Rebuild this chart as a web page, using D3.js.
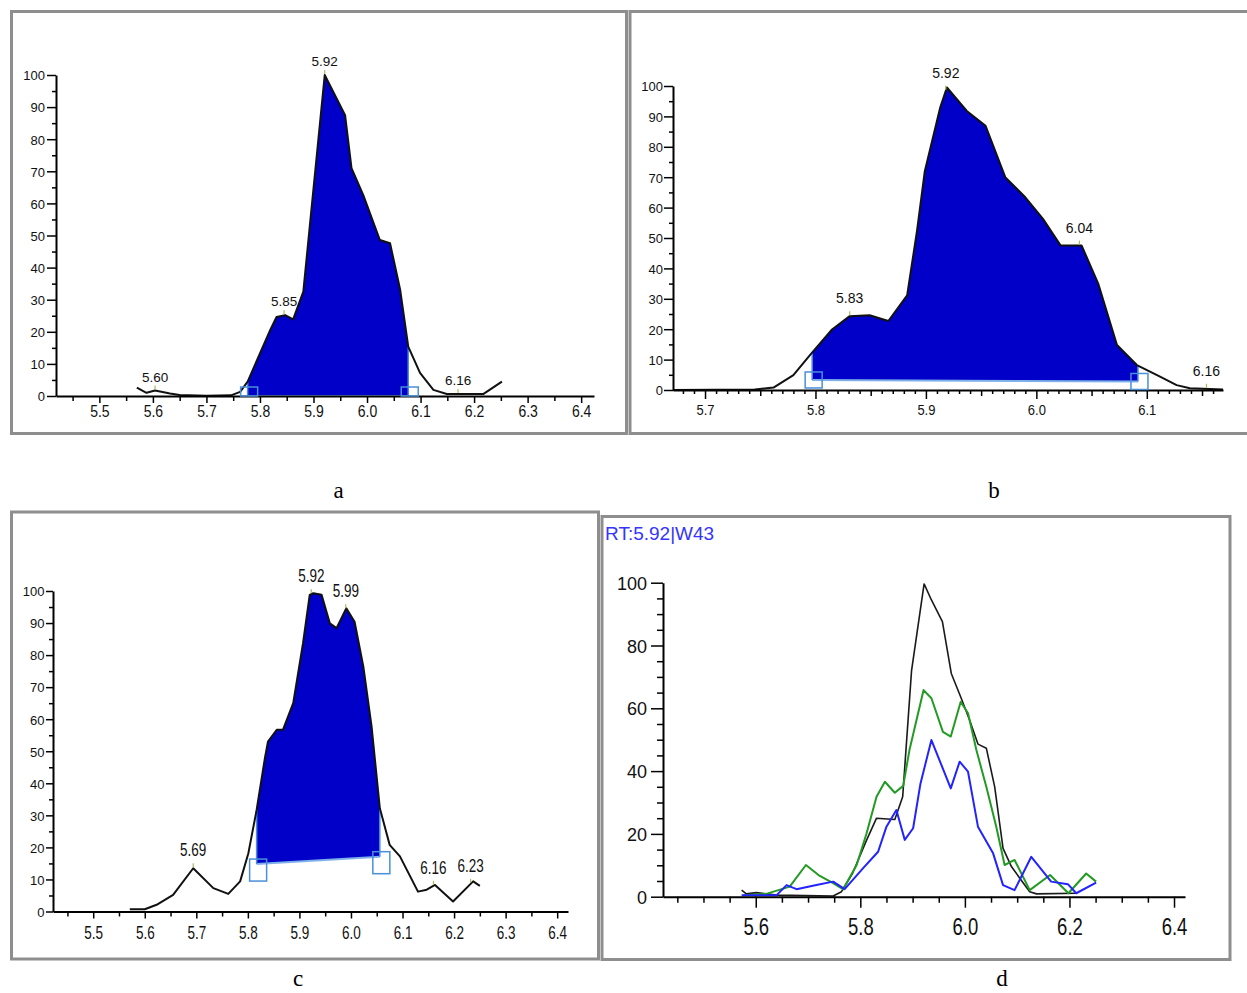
<!DOCTYPE html>
<html>
<head>
<meta charset="utf-8">
<script src="https://cdn.jsdelivr.net/npm/d3@7"></script>
<style>
  body { margin: 0; background: #fff; }
  svg { display: block; }
</style>
</head>
<body>
<div id="chart"></div>
<script>
// ---- data ----
// panel a
var aRT  = [5.570, 5.588, 5.604, 5.632, 5.650, 5.700, 5.746, 5.763, 5.777, 5.819, 5.831, 5.847, 5.862, 5.881, 5.921,
            5.959, 5.971, 5.993, 6.024, 6.043, 6.062, 6.077, 6.099, 6.124, 6.149, 6.217, 6.252];
var aVal = [2.6, 1.0, 1.7, 0.8, 0.3, 0.1, 0.2, 1.3, 4.5, 20.5, 24.6, 25.2, 23.9, 32.5, 100,
            87.5, 71, 62.6, 48.6, 47.6, 33, 15.4, 7.2, 1.9, 0.6, 0.6, 4.5];
var aPeakRT   = [5.604, 5.845, 5.921, 6.170];
var aPeakText = ['5.60', '5.85', '5.92', '6.16'];
var aArea = [5.777, 6.077];
var aBase = [0, 0];

// panel b
var bRT  = [5.671, 5.745, 5.762, 5.780, 5.795, 5.815, 5.831, 5.849, 5.866, 5.883, 5.892, 5.899, 5.913, 5.919,
            5.937, 5.954, 5.972, 5.990, 6.006, 6.022, 6.041, 6.056, 6.073, 6.091, 6.112, 6.127, 6.139, 6.169];
var bVal = [0, 0.2, 0.8, 4.9, 11.5, 19.9, 24.3, 24.6, 22.7, 31.1, 52.5, 72, 93, 99.5,
            91.8, 86.9, 69.9, 63.4, 56.3, 47.5, 47.5, 35, 14.8, 8.2, 4.4, 1.6, 0.6, 0.2];
var bPeakRT   = [5.831, 5.918, 6.039, 6.154];
var bPeakText = ['5.83', '5.92', '6.04', '6.16'];
var bArea = [5.797, 6.092];
var bBase = [3.3, 2.8];

// panel c
var cRT  = [5.571, 5.600, 5.623, 5.655, 5.694, 5.733, 5.762, 5.785, 5.801, 5.817, 5.833, 5.839, 5.856, 5.868,
            5.888, 5.907, 5.920, 5.927, 5.943, 5.959, 5.972, 5.991, 6.007, 6.024, 6.040, 6.056, 6.075, 6.095,
            6.130, 6.147, 6.163, 6.198, 6.237, 6.250];
var cVal = [0.7, 0.7, 2.1, 5.2, 13.5, 7.3, 5.5, 9.4, 18.2, 31.7, 47.8, 53, 56.7, 56.7,
            65, 83.7, 98.8, 99.3, 98.8, 89.9, 88.4, 94.6, 90.4, 76.4, 57.7, 32.2, 20.8, 17.2,
            6.2, 6.8, 8.3, 3.1, 9.4, 8.0];
var cPeakRT   = [5.694, 5.923, 5.990, 6.160, 6.232];
var cPeakText = ['5.69', '5.92', '5.99', '6.16', '6.23'];
var cArea = [5.817, 6.056];
var cBase = [14.8, 17.1];

// panel d (three traces)
var dBlackRT  = [5.573, 5.582, 5.601, 5.640, 5.748, 5.764, 5.785, 5.812, 5.831, 5.866, 5.881, 5.898, 5.922,
                 5.936, 5.957, 5.974, 5.993, 6.009, 6.025, 6.041, 6.057, 6.073, 6.089, 6.105, 6.124, 6.137, 6.214];
var dBlackVal = [2.1, 0.9, 1.3, 0.5, 0.2, 1.6, 7.4, 18, 25, 24.6, 31.8, 72, 99.6,
                 94.5, 87.6, 71.1, 63.2, 56.3, 48.6, 47.3, 35, 15.4, 9.6, 5.9, 1.6, 0.9, 1.1];
var dGreenRT  = [5.576, 5.620, 5.665, 5.696, 5.720, 5.748, 5.767, 5.793, 5.812, 5.831, 5.847, 5.866, 5.882,
                 5.894, 5.921, 5.936, 5.958, 5.973, 5.992, 6.006, 6.022, 6.041, 6.060, 6.076, 6.095, 6.124,
                 6.163, 6.198, 6.232, 6.251];
var dGreenVal = [0.5, 0.9, 3.2, 10.1, 6.9, 4.3, 2.4, 10.1, 20.2, 31.8, 36.6, 33.1, 35.3,
                 46.7, 65.8, 63.2, 52.5, 51, 62.1, 58.4, 46.7, 35, 22.3, 10.1, 11.7, 2.1,
                 6.9, 1.1, 7.4, 4.8];
var dBlueRT   = [5.573, 5.640, 5.659, 5.678, 5.716, 5.748, 5.770, 5.805, 5.834, 5.850, 5.869, 5.885, 5.901,
                 5.915, 5.936, 5.973, 5.990, 6.006, 6.025, 6.054, 6.073, 6.095, 6.127, 6.165, 6.197, 6.213, 6.251];
var dBlueVal  = [0.5, 0.5, 3.7, 2.4, 3.7, 4.8, 2.4, 9, 14.3, 22.3, 27.6, 18.1, 21.8,
                 36, 49.9, 34.5, 43, 39.8, 22.3, 13.8, 3.7, 2.1, 12.7, 4.8, 4, 1.1, 4.5];

// tick labels
var acXLabels = [5.5, 5.6, 5.7, 5.8, 5.9, 6.0, 6.1, 6.2, 6.3, 6.4];
var bXLabels  = [5.7, 5.8, 5.9, 6.0, 6.1];
var dXLabels  = [5.6, 5.8, 6.0, 6.2, 6.4];
var yLabels10 = [0, 10, 20, 30, 40, 50, 60, 70, 80, 90, 100];
var dYLabels  = [0, 20, 40, 60, 80, 100];
var panelLetters = ['a', 'b', 'c', 'd'];
var dTitle = 'RT:5.92|W43';

var W = 1247, H = 993;
var FILL = '#0000c8', EDGE = '#4a8fd8', FRAME = '#8e8e8e';
var SANS = 'Liberation Sans, Arial, sans-serif';

var svg = d3.select('#chart').append('svg')
  .attr('width', W)
  .attr('height', H);

svg.append('rect').attr('width', W).attr('height', H).attr('fill', '#fff');

function near(list, v) {
  return list.some(function (m) { return Math.abs(m - v) < 1e-6; });
}

function valueAt(rts, vals, t) {
  var i = d3.bisectLeft(rts, t);
  if (i <= 0) return vals[0];
  if (i >= rts.length) return vals[vals.length - 1];
  var f = (t - rts[i - 1]) / (rts[i] - rts[i - 1]);
  return vals[i - 1] + f * (vals[i] - vals[i - 1]);
}

function drawPanel(p) {
  var x = d3.scaleLinear().domain(p.xDomain).range(p.xRange);
  var y = d3.scaleLinear().domain([0, 100]).range(p.yRange);
  var g = svg.append('g');

  // integrated area
  if (p.area) {
    var rs = p.area[0], re = p.area[1], b0 = p.base[0], b1 = p.base[1];
    var baseAt = function (t) { return b0 + (b1 - b0) * (t - rs) / (re - rs); };
    var pts = [[rs, valueAt(p.rt, p.val, rs)]];
    p.rt.forEach(function (t, i) { if (t > rs && t < re) pts.push([t, p.val[i]]); });
    pts.push([re, valueAt(p.rt, p.val, re)]);

    g.append('path').datum(pts)
      .attr('d', d3.area()
        .x(function (d) { return x(d[0]); })
        .y0(function (d) { return y(baseAt(d[0])); })
        .y1(function (d) { return y(d[1]); }))
      .attr('fill', FILL);

    g.append('line')
      .attr('x1', x(rs)).attr('y1', y(b0)).attr('x2', x(re)).attr('y2', y(b1))
      .attr('stroke', '#7fb0ea').attr('stroke-width', 2);
    [[rs, b0], [re, b1]].forEach(function (e) {
      g.append('line')
        .attr('x1', x(e[0])).attr('x2', x(e[0]))
        .attr('y1', y(e[1])).attr('y2', y(valueAt(p.rt, p.val, e[0])))
        .attr('stroke', EDGE).attr('stroke-width', 1.5);
    });
  }

  // traces
  p.lines.forEach(function (ln) {
    var pts = ln.rt.map(function (t, i) { return [t, ln.val[i]]; });
    g.append('path').datum(pts)
      .attr('d', d3.line()
        .x(function (d) { return x(d[0]); })
        .y(function (d) { return y(d[1]); }))
      .attr('fill', 'none')
      .attr('stroke', ln.color)
      .attr('stroke-width', ln.width)
      .attr('stroke-linejoin', 'round');
  });

  // x axis
  var xAxis = g.append('g')
    .attr('transform', 'translate(0,' + p.yRange[0] + ')')
    .call(d3.axisBottom(x).tickValues(p.xTicks).tickSizeOuter(0)
      .tickFormat(function (d) { return near(p.xLabels, d) ? d3.format('.1f')(d) : ''; }))
    .attr('font-family', SANS)
    .attr('font-size', p.xFont[0]);
  xAxis.select('.domain').attr('stroke', '#000').attr('stroke-width', 2);
  xAxis.selectAll('.tick line')
    .attr('stroke', '#000').attr('stroke-width', 1.5)
    .attr('y2', function (d) {
      if (near(p.xLabels, d)) return p.xTickLen[0];
      if (p.xMid && near(p.xMid, d)) return p.xTickLen[2];
      return p.xTickLen[1];
    });
  xAxis.selectAll('.tick text')
    .attr('y', null).attr('dy', null).attr('fill', '#111')
    .attr('transform', 'translate(0,' + p.xFont[1] + ') scale(1,' + p.xFont[2] + ')');

  // y axis
  var yAxis = g.append('g')
    .attr('transform', 'translate(' + p.xRange[0] + ',0)')
    .call(d3.axisLeft(y).tickValues(d3.range(0, 101, 5)).tickSizeOuter(0)
      .tickFormat(function (d) { return near(p.yLabels, d) ? d : ''; }))
    .attr('font-family', SANS)
    .attr('font-size', p.yFont[0]);
  yAxis.select('.domain').attr('stroke', '#000').attr('stroke-width', 2);
  yAxis.selectAll('.tick line')
    .attr('stroke', '#000').attr('stroke-width', 1.5)
    .attr('x2', function (d) { return near(p.yLabels, d) ? -p.yTickLen[0] : -p.yTickLen[1]; });
  yAxis.selectAll('.tick text')
    .attr('x', null).attr('dy', null).attr('fill', '#111')
    .attr('transform', 'translate(' + (-p.yFont[1]) + ',' + p.yFont[2] + ')');

  // integration boxes
  if (p.area) {
    [[p.area[0], p.base[0]], [p.area[1], p.base[1]]].forEach(function (e) {
      g.append('rect')
        .attr('x', x(e[0]) - p.box[0] / 2 + 1.5)
        .attr('y', y(e[1]) + p.box[2])
        .attr('width', p.box[0])
        .attr('height', p.box[1])
        .attr('fill', 'none')
        .attr('stroke', EDGE)
        .attr('stroke-width', 1.5);
    });
  }

  // peak labels
  if (p.peakRT) {
    p.peakRT.forEach(function (t, i) {
      var py = y(valueAt(p.rt, p.val, t));
      g.append('line')
        .attr('x1', x(t)).attr('x2', x(t))
        .attr('y1', py - 1).attr('y2', py - 5)
        .attr('stroke', '#a9bb5a').attr('stroke-width', 1.2);
      g.append('text')
        .attr('transform', 'translate(' + x(t) + ',' + (py - p.peakFont[1]) + ') scale(1,' + p.peakFont[2] + ')')
        .attr('text-anchor', 'middle')
        .attr('font-family', SANS)
        .attr('font-size', p.peakFont[0])
        .attr('fill', '#111')
        .text(p.peakText[i]);
    });
  }
}

// frames
var frames = [
  [11.5, 11.5, 615, 422],
  [630, 11.5, 640, 422],
  [11.5, 512, 587, 447],
  [602, 516.5, 628, 443]
];
svg.selectAll('rect.frame').data(frames).enter().append('rect')
  .attr('class', 'frame')
  .attr('x', function (d) { return d[0]; })
  .attr('y', function (d) { return d[1]; })
  .attr('width', function (d) { return d[2]; })
  .attr('height', function (d) { return d[3]; })
  .attr('fill', 'none')
  .attr('stroke', FRAME)
  .attr('stroke-width', 3);

var acTicks = d3.range(0, 20).map(function (i) { return +(5.45 + i * 0.05).toFixed(2); });
var bTicks = d3.range(0, 49).map(function (i) { return +(5.68 + i * 0.01).toFixed(2); });
var bMid = [5.75, 5.85, 5.95, 6.05, 6.15];

drawPanel({
  xDomain: [5.419, 6.424], xRange: [56, 594], yRange: [396, 75],
  rt: aRT, val: aVal, area: aArea, base: aBase, box: [17, 9, -9],
  lines: [{ rt: aRT, val: aVal, color: '#111', width: 2 }],
  xTicks: acTicks, xLabels: acXLabels, xTickLen: [7, 5], xFont: [14, 21, 1.2],
  yLabels: yLabels10, yTickLen: [9, 4], yFont: [13, 11, 4.8],
  peakRT: aPeakRT, peakText: aPeakText, peakFont: [13.5, 9, 1]
});

drawPanel({
  xDomain: [5.671, 6.169], xRange: [673, 1223], yRange: [390, 86],
  rt: bRT, val: bVal, area: bArea, base: bBase, box: [17, 16, -8],
  lines: [{ rt: bRT, val: bVal, color: '#111', width: 2 }],
  xTicks: bTicks, xLabels: bXLabels, xMid: bMid, xTickLen: [9, 4, 6], xFont: [13, 25, 1.1],
  yLabels: yLabels10, yTickLen: [9, 4], yFont: [13, 10, 4.8],
  peakRT: bPeakRT, peakText: bPeakText, peakFont: [14, 13, 1]
});

drawPanel({
  xDomain: [5.422, 6.421], xRange: [53, 568], yRange: [911.5, 591],
  rt: cRT, val: cVal, area: cArea, base: cBase, box: [17, 22, -5],
  lines: [{ rt: cRT, val: cVal, color: '#111', width: 2 }],
  xTicks: acTicks, xLabels: acXLabels, xTickLen: [7, 5], xFont: [13.5, 27, 1.35],
  yLabels: yLabels10, yTickLen: [7, 4], yFont: [13, 8.5, 4.8],
  peakRT: cPeakRT, peakText: cPeakText, peakFont: [13.5, 12, 1.3]
});

drawPanel({
  xDomain: [5.4226, 6.421], xRange: [663, 1185], yRange: [896.7, 582.7],
  rt: dBlackRT, val: dBlackVal,
  lines: [
    { rt: dBlackRT, val: dBlackVal, color: '#1a1a1a', width: 1.6 },
    { rt: dGreenRT, val: dGreenVal, color: '#239a23', width: 2 },
    { rt: dBlueRT, val: dBlueVal, color: '#2323ff', width: 2 }
  ],
  xTicks: acTicks, xLabels: dXLabels, xTickLen: [11, 6], xFont: [18.5, 38, 1.25],
  yLabels: dYLabels, yTickLen: [12, 6], yFont: [18, 16, 6.5]
});

// title of panel d
svg.append('text')
  .attr('x', 605).attr('y', 540)
  .attr('font-family', SANS)
  .attr('font-size', 19)
  .attr('fill', '#3535ff')
  .text(dTitle);

// panel letters
var letterPos = [[338.5, 498], [994, 498], [298, 986], [1002, 986]];
svg.selectAll('text.letter').data(panelLetters).enter().append('text')
  .attr('class', 'letter')
  .attr('x', function (d, i) { return letterPos[i][0]; })
  .attr('y', function (d, i) { return letterPos[i][1]; })
  .attr('text-anchor', 'middle')
  .attr('font-family', 'Liberation Serif, Times New Roman, serif')
  .attr('font-size', 23)
  .attr('fill', '#000')
  .text(function (d) { return d; });
</script>
</body>
</html>
